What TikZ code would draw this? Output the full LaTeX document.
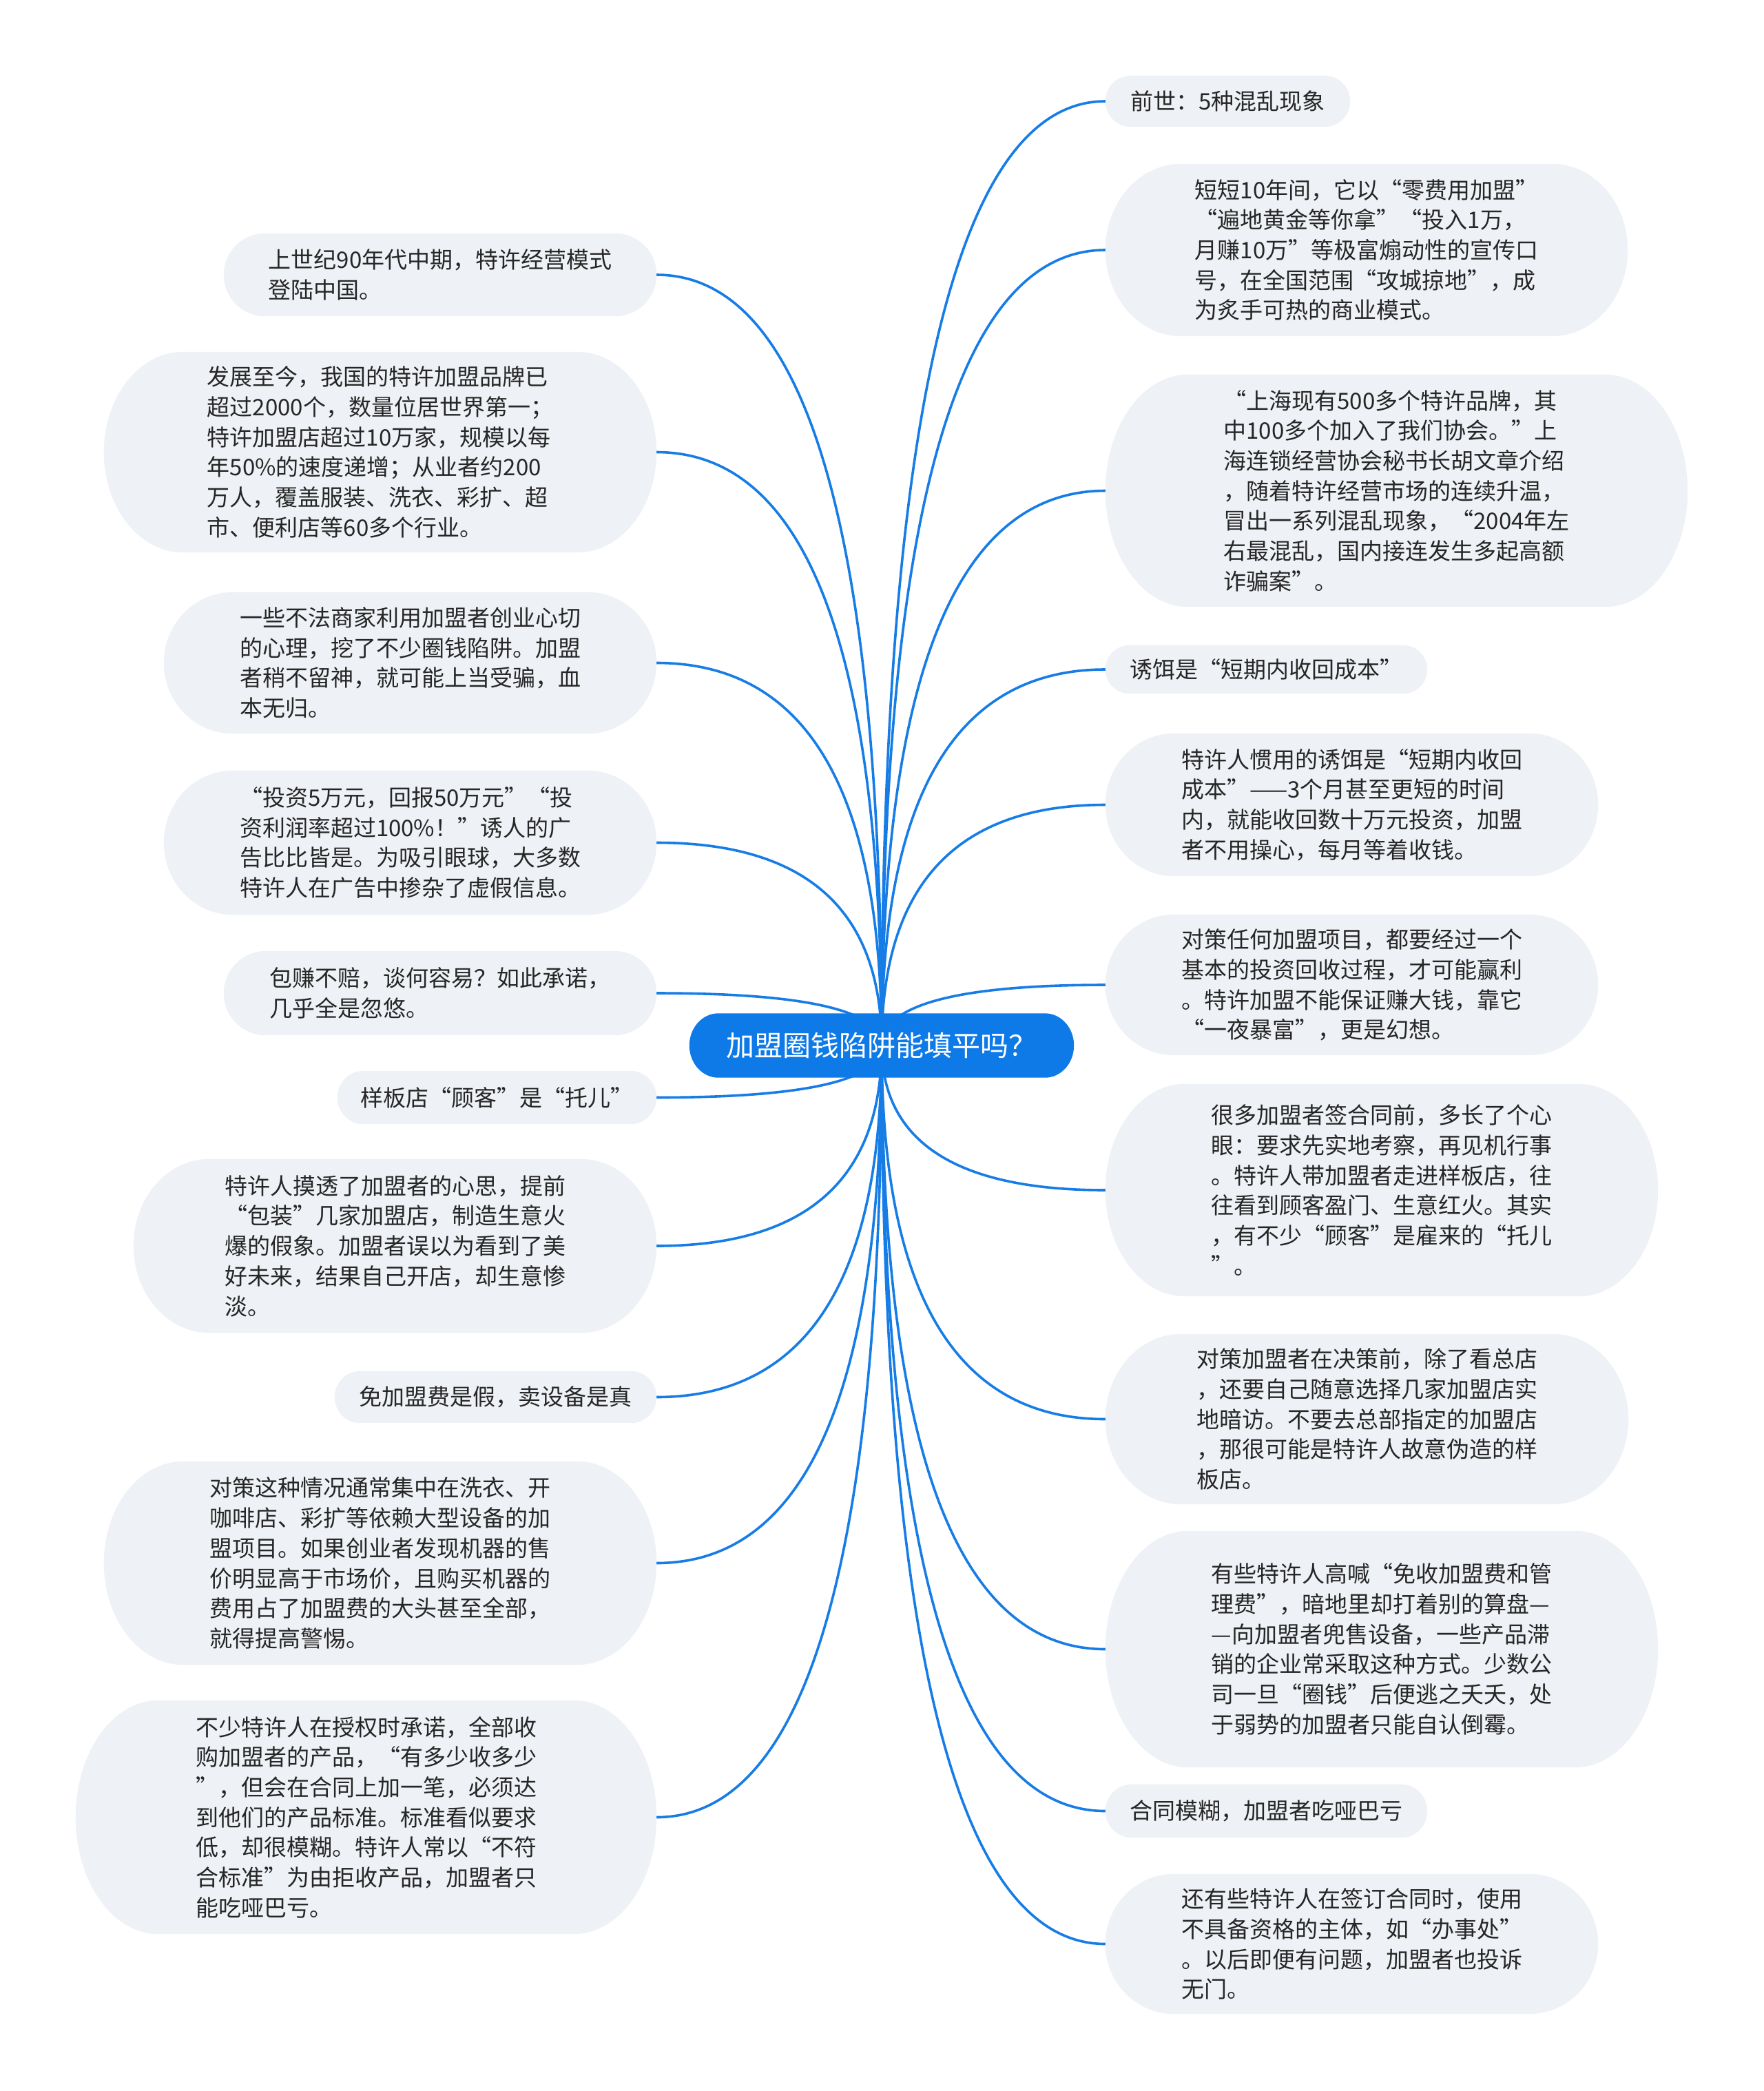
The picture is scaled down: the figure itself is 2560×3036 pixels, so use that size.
\documentclass[tikz,border=0pt]{standalone}
\usepackage{fontspec}
\setmainfont{Noto Sans CJK SC}
\usetikzlibrary{calc,backgrounds}
\definecolor{lineblue}{RGB}{22,124,230}
\definecolor{rootblue}{RGB}{14,122,232}
\definecolor{leafbg}{RGB}{238,241,245}
\definecolor{leaftext}{RGB}{38,38,38}
\newcommand\pillfill[3]{%
  \fill[#3] let \p1=(#1.north west), \p2=(#1.south east), \n1={(\y1-\y2)/2} in
    (\x1+#2pt,\y1) -- (\x2-#2pt,\y1)
    arc[start angle=90,end angle=-90,x radius=#2pt,y radius={\n1*1pt}]
    -- (\x1+#2pt,\y2)
    arc[start angle=-90,end angle=-270,x radius=#2pt,y radius={\n1*1pt}] -- cycle;}
\newcommand\conn[2]{%
  \draw[link] (root.center) .. controls ($(root.center)!0.6667!(root.center|-#1.#2)$)
    and ($(#1.#2)!0.6667!(root.center|-#1.#2)$) .. (#1.#2);}
\begin{document}
\begin{tikzpicture}[x=1pt,y=-1pt,
  leaf/.style={draw=none,inner sep=0pt,align=left,text=leaftext,font=\fontsize{33}{43.7}\selectfont},
  rootnode/.style={inner sep=0pt,text=white,font=\fontsize{41}{48}\selectfont},
  link/.style={draw=lineblue,line width=3.6pt}]
\useasboundingbox (0,0) rectangle (2560,3036);
% root
\node[rootnode,minimum width=558pt,minimum height=93pt] (root) at (1280,1518) {加盟圈钱陷阱能填平吗？};
% right side
\node[leaf,minimum width=355pt,minimum height=74pt] (r1) at (1782.5,147) {前世：5种混乱现象};
\node[leaf,minimum width=758pt,minimum height=250pt] (r2) at (1984,363) {短短10年间，它以“零费用加盟”\\“遍地黄金等你拿”“投入1万，\\月赚10万”等极富煽动性的宣传口\\号，在全国范围“攻城掠地”，成\\为炙手可热的商业模式。};
\node[leaf,minimum width=845pt,minimum height=337pt] (r3) at (2027.5,712.5) {“上海现有500多个特许品牌，其\\中100多个加入了我们协会。”上\\海连锁经营协会秘书长胡文章介绍\\，随着特许经营市场的连续升温，\\冒出一系列混乱现象，“2004年左\\右最混乱，国内接连发生多起高额\\诈骗案”。};
\node[leaf,minimum width=467pt,minimum height=70pt] (r4) at (1838.5,972) {诱饵是“短期内收回成本”};
\node[leaf,minimum width=715pt,minimum height=207pt] (r5) at (1962.5,1168.5) {特许人惯用的诱饵是“短期内收回\\成本”——3个月甚至更短的时间\\内，就能收回数十万元投资，加盟\\者不用操心，每月等着收钱。};
\node[leaf,minimum width=715pt,minimum height=204pt] (r6) at (1962.5,1430) {对策任何加盟项目，都要经过一个\\基本的投资回收过程，才可能赢利\\。特许加盟不能保证赚大钱，靠它\\“一夜暴富”，更是幻想。};
\node[leaf,minimum width=802pt,minimum height=308pt] (r7) at (2006,1728) {很多加盟者签合同前，多长了个心\\眼：要求先实地考察，再见机行事\\。特许人带加盟者走进样板店，往\\往看到顾客盈门、生意红火。其实\\，有不少“顾客”是雇来的“托儿\\”。};
\node[leaf,minimum width=759pt,minimum height=247pt] (r8) at (1984.5,2060.5) {对策加盟者在决策前，除了看总店\\，还要自己随意选择几家加盟店实\\地暗访。不要去总部指定的加盟店\\，那很可能是特许人故意伪造的样\\板店。};
\node[leaf,minimum width=802pt,minimum height=343pt] (r9) at (2006,2394.5) {有些特许人高喊“免收加盟费和管\\理费”，暗地里却打着别的算盘—\\—向加盟者兜售设备，一些产品滞\\销的企业常采取这种方式。少数公\\司一旦“圈钱”后便逃之夭夭，处\\于弱势的加盟者只能自认倒霉。};
\node[leaf,minimum width=467pt,minimum height=77pt] (r10) at (1838.5,2629.5) {合同模糊，加盟者吃哑巴亏};
\node[leaf,minimum width=715pt,minimum height=203pt] (r11) at (1962.5,2822.5) {还有些特许人在签订合同时，使用\\不具备资格的主体，如“办事处”\\。以后即便有问题，加盟者也投诉\\无门。};
% left side
\node[leaf,minimum width=628pt,minimum height=120pt] (l1) at (639,399) {上世纪90年代中期，特许经营模式\\登陆中国。};
\node[leaf,minimum width=802pt,minimum height=291pt] (l2) at (552,656.5) {发展至今，我国的特许加盟品牌已\\超过2000个，数量位居世界第一；\\特许加盟店超过10万家，规模以每\\年50\%的速度递增；从业者约200\\万人，覆盖服装、洗衣、彩扩、超\\市、便利店等60多个行业。};
\node[leaf,minimum width=715pt,minimum height=205pt] (l3) at (595.5,962.5) {一些不法商家利用加盟者创业心切\\的心理，挖了不少圈钱陷阱。加盟\\者稍不留神，就可能上当受骗，血\\本无归。};
\node[leaf,minimum width=715pt,minimum height=209pt] (l4) at (595.5,1223.5) {“投资5万元，回报50万元”“投\\资利润率超过100\%！”诱人的广\\告比比皆是。为吸引眼球，大多数\\特许人在广告中掺杂了虚假信息。};
\node[leaf,minimum width=628pt,minimum height=122pt] (l5) at (639,1442) {包赚不赔，谈何容易？如此承诺，\\几乎全是忽悠。};
\node[leaf,minimum width=463pt,minimum height=77pt] (l6) at (721.5,1593.5) {样板店“顾客”是“托儿”};
\node[leaf,minimum width=759pt,minimum height=252pt] (l7) at (573.5,1809) {特许人摸透了加盟者的心思，提前\\“包装”几家加盟店，制造生意火\\爆的假象。加盟者误以为看到了美\\好未来，结果自己开店，却生意惨\\淡。};
\node[leaf,minimum width=467pt,minimum height=75pt] (l8) at (719.5,2028.5) {免加盟费是假，卖设备是真};
\node[leaf,minimum width=802pt,minimum height=295pt] (l9) at (552,2269.5) {对策这种情况通常集中在洗衣、开\\咖啡店、彩扩等依赖大型设备的加\\盟项目。如果创业者发现机器的售\\价明显高于市场价，且购买机器的\\费用占了加盟费的大头甚至全部，\\就得提高警惕。};
\node[leaf,minimum width=843pt,minimum height=339pt] (l10) at (531.5,2638.5) {不少特许人在授权时承诺，全部收\\购加盟者的产品，“有多少收多少\\”，但会在合同上加一笔，必须达\\到他们的产品标准。标准看似要求\\低，却很模糊。特许人常以“不符\\合标准”为由拒收产品，加盟者只\\能吃哑巴亏。};
\begin{scope}[on background layer]
\fill[white] (0,0) rectangle (2560,3036);
\foreach \n in {r1,r2,r3,r4,r5,r6,r7,r8,r9,r10,r11} {\conn{\n}{west}}
\foreach \n in {l1,l2,l3,l4,l5,l6,l7,l8,l9,l10} {\conn{\n}{east}}
\pillfill{root}{42}{rootblue}
\pillfill{r1}{37}{leafbg}
\pillfill{r2}{110}{leafbg}
\pillfill{r3}{120}{leafbg}
\pillfill{r4}{35}{leafbg}
\pillfill{r5}{100}{leafbg}
\pillfill{r6}{100}{leafbg}
\pillfill{r7}{115}{leafbg}
\pillfill{r8}{110}{leafbg}
\pillfill{r9}{120}{leafbg}
\pillfill{r10}{38}{leafbg}
\pillfill{r11}{100}{leafbg}
\pillfill{l1}{60}{leafbg}
\pillfill{l2}{115}{leafbg}
\pillfill{l3}{100}{leafbg}
\pillfill{l4}{100}{leafbg}
\pillfill{l5}{61}{leafbg}
\pillfill{l6}{38}{leafbg}
\pillfill{l7}{110}{leafbg}
\pillfill{l8}{37}{leafbg}
\pillfill{l9}{115}{leafbg}
\pillfill{l10}{120}{leafbg}
\end{scope}
\end{tikzpicture}
\end{document}
